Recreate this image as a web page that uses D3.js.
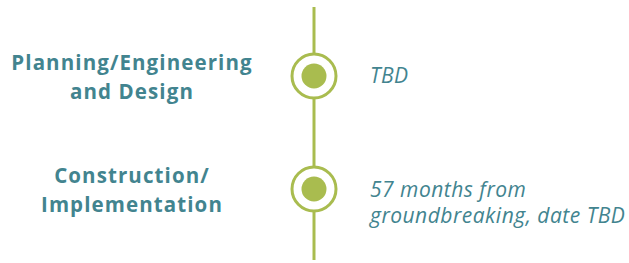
<!DOCTYPE html>
<html>
<head>
<meta charset="utf-8">
<script src="https://cdn.jsdelivr.net/npm/d3@7"></script>
<style>
  html, body { margin: 0; padding: 0; background: #fff; }
</style>
</head>
<body>
<div id="chart"></div>
<script>
// Timeline data
const phases = ['Planning/Engineering and Design', 'Construction/Implementation'];
const phaseLines = [['Planning/Engineering', 'and Design'], ['Construction/', 'Implementation']];
const durationLines = [['TBD'], ['57 months from', 'groundbreaking, date TBD']];

const width = 629, height = 263;
const green = '#a9bc4f', teal = '#42848f';
const axisX = 314;

const svg = d3.select('#chart').append('svg')
    .attr('width', width)
    .attr('height', height);

const y = d3.scalePoint()
    .domain(phases)
    .range([76, 189]);

// vertical line
svg.append('line')
    .attr('x1', axisX).attr('x2', axisX)
    .attr('y1', 7).attr('y2', 260)
    .attr('stroke', green)
    .attr('stroke-width', 3);

const nodes = svg.selectAll('.node')
    .data(phases)
    .join('g')
    .attr('class', 'node')
    .attr('transform', d => `translate(${axisX},${y(d)})`);

nodes.append('circle')
    .attr('r', 22)
    .attr('fill', '#fff')
    .attr('stroke', green)
    .attr('stroke-width', 3);

nodes.append('circle')
    .attr('r', 12.5)
    .attr('fill', green);

// phase labels (left)
const labels = svg.selectAll('.phase-label')
    .data(phases)
    .join('text')
    .attr('class', 'phase-label')
    .attr('text-anchor', 'middle')
    .attr('font-family', '"Open Sans", sans-serif')
    .attr('font-weight', 700)
    .attr('font-size', 20.5)
    .attr('letter-spacing', 1.1)
    .attr('fill', teal);

labels.selectAll('tspan')
    .data((d, i) => phaseLines[i].map((t, j) => ({ t, j, i })))
    .join('tspan')
    .attr('x', 132)
    .attr('y', d => y(phases[d.i]) - 6 + d.j * 29)
    .text(d => d.t);

// durations (right)
const durs = svg.selectAll('.dur-label')
    .data(phases)
    .join('text')
    .attr('class', 'dur-label')
    .attr('font-family', '"Open Sans", sans-serif')
    .attr('font-style', 'italic')
    .attr('font-size', 21)
    .attr('letter-spacing', 0.5)
    .attr('fill', teal);

durs.selectAll('tspan')
    .data((d, i) => durationLines[i].map((t, j) => ({ t, j, i, n: durationLines[i].length })))
    .join('tspan')
    .attr('x', 370)
    .attr('y', d => d.n === 1 ? y(phases[d.i]) + 7 : y(phases[d.i]) + 8 + d.j * 26)
    .text(d => d.t);
</script>
</body>
</html>
